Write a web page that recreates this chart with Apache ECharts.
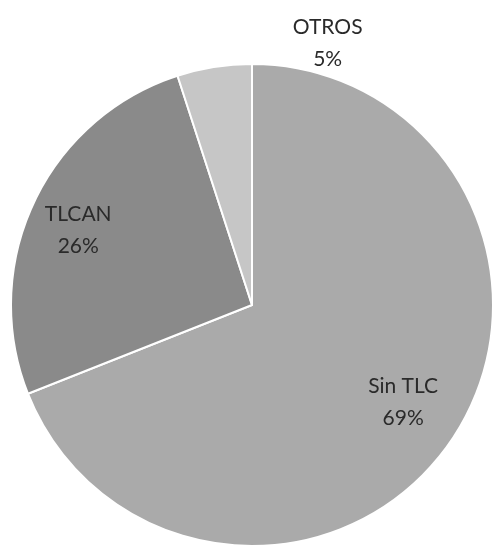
<!DOCTYPE html>
<html>
<head>
<meta charset="utf-8">
<title>TLC pie</title>
<script src="https://cdn.jsdelivr.net/npm/echarts@6/dist/echarts.min.js"></script>
<style>
  html, body { margin: 0; padding: 0; background: #fff; }
  #chart { width: 493px; height: 550px; }
</style>
</head>
<body>
<div id="chart"></div>
<script>
// slices, clockwise from 12 o'clock
const categories = ['Sin TLC', 'TLCAN', 'OTROS']
const values = [69, 26, 5]

const sliceColors = ['#aaaaaa', '#8a8a8a', '#c6c6c6']
// label nudges from the default inside spot
const labelShift = [[49, 28], [-62, -22], [95, -140]]

const chart = echarts.init(document.getElementById('chart'))
chart.setOption({
  animation: false,
  series: [
    {
      type: 'pie',
      center: [252, 305],
      radius: 241,
      startAngle: 90,
      clockwise: true,
      avoidLabelOverlap: false,
      itemStyle: {
        borderColor: '#ffffff',
        borderWidth: 2
      },
      label: {
        show: true,
        position: 'inside',
        formatter: p => p.name + '\n' + p.value + '%',
        fontFamily: 'Lato, "Open Sans", sans-serif',
        fontSize: 21,
        lineHeight: 32,
        color: '#2a2a2a',
        align: 'center'
      },
      labelLine: { show: false },
      labelLayout: params => ({
        dx: labelShift[params.dataIndex][0],
        dy: labelShift[params.dataIndex][1]
      }),
      data: categories.map((name, i) => ({
        name,
        value: values[i],
        itemStyle: { color: sliceColors[i] }
      }))
    }
  ]
})
</script>
</body>
</html>
